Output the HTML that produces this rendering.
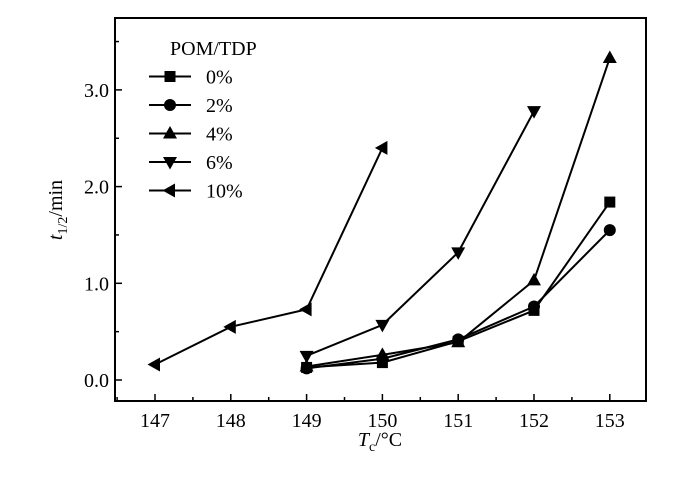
<!DOCTYPE html>
<html><head><meta charset="utf-8"><style>body{margin:0;background:#fff}svg text{font-family:"Liberation Serif",serif;fill:#000}</style></head>
<body>
<svg id="c" width="700" height="481"></svg>
<script>
const categories=[147,148,149,150,151,152,153];
const seriesNames=["0%","2%","4%","6%","10%"];
const x0=[149,150,151,152,153], y0=[0.13,0.18,0.40,0.72,1.84];
const x2=[149,150,151,152,153], y2=[0.12,0.22,0.42,0.76,1.55];
const x4=[149,150,151,152,153], y4=[0.14,0.26,0.39,1.03,3.33];
const x6=[149,150,151,152], y6=[0.25,0.57,1.32,2.78];
const x10=[147,148,149,150], y10=[0.16,0.55,0.73,2.40];
const yTicks=[0,1,2,3];
const yLabels=["0.0","1.0","2.0","3.0"];
const L=115,R=646,T=18,B=401;
const X=v=>155+(v-147)*75.8, Y=v=>380-v*96.7;
const svg=document.getElementById('c'),NS='http://www.w3.org/2000/svg';
function mk(t,a,p){const e=document.createElementNS(NS,t);for(const k in a)e.setAttribute(k,a[k]);(p||svg).appendChild(e);return e;}
const fr=mk('rect',{x:L,y:T,width:R-L,height:B-T,fill:'none',stroke:'#000','stroke-width':2});

for(let v=146.5;v<=153.5;v+=0.5){if(X(v)<=L||X(v)>=R)continue;const maj=Number.isInteger(v);mk('line',{x1:X(v),x2:X(v),y1:B,y2:B-(maj?7:4),stroke:'#000','stroke-width':1.5});}
categories.forEach(c=>{const t=mk('text',{x:X(c),y:B+26,'text-anchor':'middle','font-size':20});t.textContent=c;
});
for(let v=-0.5;v<=3.6;v+=0.5){const y=Y(v);if(y>=B||y<=T)continue;const maj=Math.abs(v-Math.round(v))<1e-6;mk('line',{x1:L,x2:L+(maj?7:4),y1:y,y2:y,stroke:'#000','stroke-width':1.5});}
yTicks.forEach((v,i)=>{const t=mk('text',{x:L-6,y:Y(v)+7,'text-anchor':'end','font-size':20});t.textContent=yLabels[i];
});
const xt=mk('text',{x:380,y:446,'text-anchor':'middle','font-size':20});xt.innerHTML='<tspan font-style="italic">T</tspan><tspan font-size="14" dy="5">c</tspan><tspan dy="-5">/°C</tspan>';

const yt=mk('text',{transform:'translate(62,210) rotate(-90)','text-anchor':'middle','font-size':20});yt.innerHTML='<tspan font-style="italic">t</tspan><tspan font-size="14" dy="5">1/2</tspan><tspan dy="-5">/min</tspan>';

function marker(k,cx,cy,g){
 if(k==0)mk('rect',{x:cx-5.5,y:cy-5.5,width:11,height:11,fill:'#000'},g);
 else if(k==1)mk('circle',{cx,cy,r:6,fill:'#000'},g);
 else if(k==2)mk('polygon',{points:`${cx},${cy-7.5} ${cx-7},${cy+5} ${cx+7},${cy+5}`,fill:'#000'},g);
 else if(k==3)mk('polygon',{points:`${cx},${cy+7.5} ${cx-7},${cy-5} ${cx+7},${cy-5}`,fill:'#000'},g);
 else mk('polygon',{points:`${cx-7.5},${cy} ${cx+5},${cy-7} ${cx+5},${cy+7}`,fill:'#000'},g);}
const data=[[x0,y0],[x2,y2],[x4,y4],[x6,y6],[x10,y10]];
data.forEach((d,k)=>{const g=mk('g',{});
 mk('polyline',{points:d[0].map((x,i)=>X(x)+','+Y(d[1][i])).join(' '),fill:'none',stroke:'#000','stroke-width':2},g);
 d[0].forEach((x,i)=>marker(k,X(x),Y(d[1][i]),g));});
const lg=mk('g',{});
const lt=mk('text',{x:170,y:55,'font-size':20},lg);lt.textContent='POM/TDP';
seriesNames.forEach((n,k)=>{const y=76.5+k*28.5;const g=mk('g',{},lg);
 mk('line',{x1:149,x2:191,y1:y,y2:y,stroke:'#000','stroke-width':2},g);marker(k,170,y,g);
 const t=mk('text',{x:206,y:y+7,'font-size':20},g);t.textContent=n;});
</script>
</body></html>
